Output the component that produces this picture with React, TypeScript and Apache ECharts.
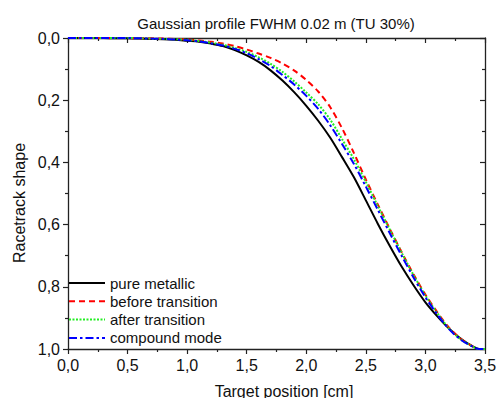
import React, { useEffect, useRef } from "react";
import * as echarts from "echarts";

// Target position [cm]
const positions = [
  0, 0.1, 0.2, 0.3, 0.4, 0.5, 0.6, 0.7, 0.8, 0.9, 1.0, 1.1, 1.2, 1.3, 1.4, 1.5, 1.6, 1.7, 1.8,
  1.9, 2.0, 2.1, 2.2, 2.3, 2.4, 2.5, 2.6, 2.7, 2.8, 2.9, 3.0, 3.1, 3.2, 3.3, 3.4, 3.45, 3.5,
];

// Racetrack shape for each operating mode
const pureMetallic = [
  0, 0, 0, 0, 0.001, 0.001, 0.002, 0.003, 0.004, 0.006, 0.009, 0.012, 0.018, 0.026, 0.039, 0.056,
  0.077, 0.104, 0.137, 0.175, 0.218, 0.266, 0.32, 0.383, 0.448, 0.522, 0.597, 0.668, 0.735, 0.795,
  0.85, 0.895, 0.935, 0.968, 0.992, 1.0, 1.0,
];
const beforeTransition = [
  0, 0, 0, 0, 0, 0, 0.001, 0.001, 0.002, 0.003, 0.005, 0.008, 0.012, 0.018, 0.026, 0.037, 0.05,
  0.064, 0.082, 0.105, 0.135, 0.172, 0.222, 0.29, 0.37, 0.455, 0.535, 0.613, 0.688, 0.76, 0.825,
  0.882, 0.932, 0.968, 0.992, 1.0, 1.0,
];
const afterTransition = [
  0, 0, 0, 0, 0, 0, 0.001, 0.002, 0.003, 0.004, 0.006, 0.01, 0.015, 0.022, 0.032, 0.045, 0.062,
  0.083, 0.109, 0.14, 0.175, 0.213, 0.262, 0.325, 0.39, 0.463, 0.54, 0.615, 0.69, 0.762, 0.828,
  0.885, 0.935, 0.97, 0.993, 1.0, 1.0,
];
const compoundMode = [
  0, 0, 0, 0, 0, 0, 0.001, 0.002, 0.003, 0.005, 0.007, 0.011, 0.017, 0.024, 0.035, 0.049, 0.068,
  0.09, 0.119, 0.15, 0.186, 0.228, 0.28, 0.341, 0.405, 0.478, 0.552, 0.627, 0.7, 0.77, 0.834,
  0.889, 0.937, 0.971, 0.993, 1.0, 1.0,
];

const seriesNames = ["pure metallic", "before transition", "after transition", "compound mode"];
const seriesValues = [pureMetallic, beforeTransition, afterTransition, compoundMode];
const seriesColors = ["#000000", "#ff0000", "#22ee22", "#0000ff"];
const seriesDashes: any[] = ["solid", [6, 4], [2, 1.5], [8, 3, 2.5, 3]];

const titleText = "Gaussian profile FWHM 0.02 m (TU 30%)";
const xName = "Target position [cm]";
const yName = "Racetrack shape";

const FONT = '"Liberation Sans", Arial, Helvetica, sans-serif';
const AXIS_COLOR = "#222";

const commaFormat = (v: number) => v.toFixed(1).replace(".", ",");

export default function App() {
  const ref = useRef<HTMLDivElement>(null);

  useEffect(() => {
    if (!ref.current) return;
    const chart = echarts.init(ref.current, undefined, { renderer: "svg" });

    const axisLine = { show: true, onZero: false, lineStyle: { color: AXIS_COLOR, width: 1.3 } };
    const tickLine = { color: AXIS_COLOR, width: 1.2 };

    const xBase = {
      type: "value",
      min: 0,
      max: 3.5,
      interval: 0.5,
      axisLine,
      splitLine: { show: false },
    };
    const yBase = {
      type: "value",
      min: 0,
      max: 1,
      interval: 0.2,
      inverse: true,
      axisLine,
      splitLine: { show: false },
    };

    chart.setOption({
      animation: false,
      backgroundColor: "#ffffff",
      title: {
        text: titleText,
        left: 276,
        top: 16,
        textAlign: "center",
        padding: 0,
        textStyle: { fontSize: 15, fontWeight: "normal", color: "#111", fontFamily: FONT },
      },
      grid: { left: 68, right: 15, top: 38, bottom: 49, outerBoundsMode: "none" },
      legend: {
        orient: "vertical",
        left: 68,
        top: 275,
        padding: 0,
        itemGap: 2.3,
        itemWidth: 36,
        itemHeight: 14,
        itemStyle: { opacity: 0 },
        data: seriesNames,
        textStyle: { fontSize: 15, color: "#111", fontFamily: FONT, lineHeight: 16 },
      },
      xAxis: [
        {
          ...xBase,
          position: "bottom",
          axisTick: { show: true, inside: false, length: 5, lineStyle: tickLine },
          minorTick: { show: true, splitNumber: 2, length: 3, lineStyle: tickLine },
          axisLabel: { formatter: commaFormat, fontSize: 16, color: "#111", fontFamily: FONT, margin: 8 },
        },
        {
          ...xBase,
          position: "top",
          axisTick: { show: true, inside: true, length: 5, lineStyle: tickLine },
          minorTick: { show: true, splitNumber: 2, length: 3, lineStyle: tickLine },
          axisLabel: { show: false },
        },
      ],
      yAxis: [
        {
          ...yBase,
          position: "left",
          axisTick: { show: true, inside: false, length: 5, lineStyle: tickLine },
          minorTick: { show: true, splitNumber: 2, length: 3, lineStyle: tickLine },
          axisLabel: { formatter: commaFormat, fontSize: 16, color: "#111", fontFamily: FONT, margin: 8 },
        },
        {
          ...yBase,
          position: "right",
          axisTick: { show: true, inside: true, length: 5, lineStyle: tickLine },
          minorTick: { show: true, splitNumber: 2, length: 3, lineStyle: tickLine },
          axisLabel: { show: false },
        },
      ],
      graphic: [
        {
          type: "text",
          x: 19,
          y: 203,
          rotation: Math.PI / 2,
          style: {
            text: yName,
            fontSize: 16,
            fontFamily: FONT,
            fill: "#111",
            align: "center",
            verticalAlign: "middle",
          },
        },
        {
          type: "text",
          x: 284,
          y: 391,
          style: {
            text: xName,
            fontSize: 16,
            fontFamily: FONT,
            fill: "#111",
            align: "center",
            verticalAlign: "middle",
          },
        },
      ],
      series: seriesNames.map((name, k) => ({
        name,
        type: "line",
        xAxisIndex: 0,
        yAxisIndex: 0,
        symbol: "none",
        smooth: 0.3,
        color: seriesColors[k],
        lineStyle: { color: seriesColors[k], width: 2, type: seriesDashes[k] },
        data: positions.map((x, i) => [x, seriesValues[k][i]]),
      })),
    });

    return () => chart.dispose();
  }, []);

  return (
    <div
      ref={ref}
      style={{ position: "fixed", left: 0, top: 0, width: 500, height: 398 }}
    />
  );
}
